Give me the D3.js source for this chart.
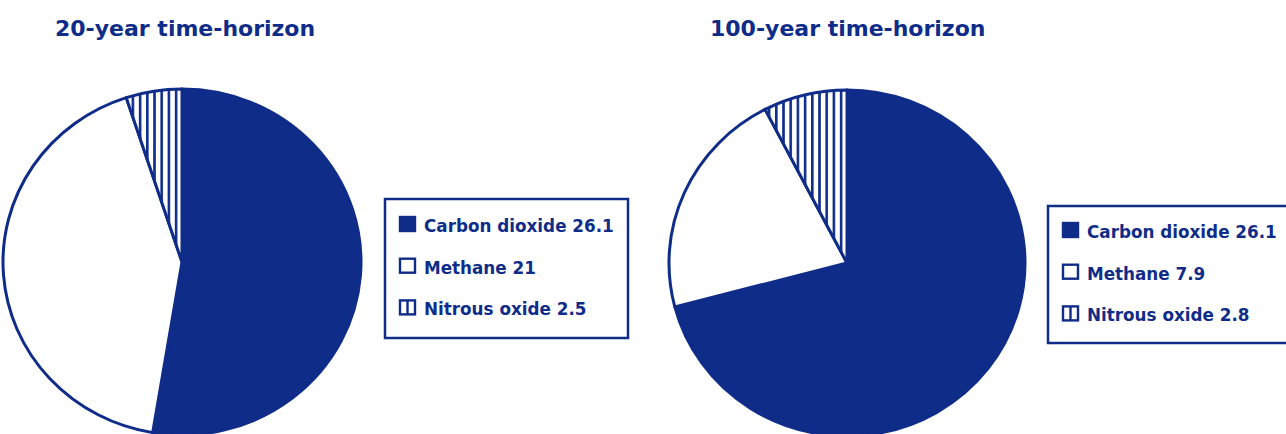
<!DOCTYPE html>
<html>
<head>
<meta charset="utf-8">
<script src="https://cdn.jsdelivr.net/npm/d3@7"></script>
<style>
body { margin: 0; background: #fff; }
svg { display: block; }
</style>
</head>
<body>
<div id="chart-area"></div>
<script>
var categories = ["Carbon dioxide", "Methane", "Nitrous oxide"];
var values20 = [26.1, 21, 2.5];
var values100 = [26.1, 7.9, 2.8];
var titles = ["20-year time-horizon", "100-year time-horizon"];
var valueLabels20 = ["26.1", "21", "2.5"];
var valueLabels100 = ["26.1", "7.9", "2.8"];

var width = 1286;
var height = 434;
var navy = "#0f2c89";

var svg = d3.select("#chart-area").append("svg")
	.attr("width", width)
	.attr("height", height);

var defs = svg.append("defs");
var pat = defs.append("pattern")
	.attr("id", "hatch")
	.attr("patternUnits", "userSpaceOnUse")
	.attr("width", 7.2)
	.attr("height", 10);
pat.append("rect").attr("width", 7.2).attr("height", 10).attr("fill", "#fff");
pat.append("rect").attr("x", 0).attr("width", 2.6).attr("height", 10).attr("fill", navy);

var fills = [navy, "#fff", "url(#hatch)"];

var panels = [
	{values: values20, labels: valueLabels20, title: titles[0], cx: 182, cy: 262, r: 179, ry: 173,
	 titleX: 55, box: {x: 385, y: 199, w: 243, h: 139, top: 17}},
	{values: values100, labels: valueLabels100, title: titles[1], cx: 847, cy: 263, r: 178, ry: 173,
	 titleX: 710, box: {x: 1048, y: 206, w: 245, h: 137, top: 16}}
];

var pie = d3.pie().sort(null).value((d)=>{return d;});

panels.forEach((p)=>{
	svg.append("text")
		.attr("x", p.titleX)
		.attr("y", 36)
		.attr("font-family", "DejaVu Sans")
		.attr("font-weight", "bold")
		.attr("font-size", "22px")
		.attr("fill", navy)
		.text(p.title);

	var arc = d3.arc().innerRadius(0).outerRadius(p.r);
	var g = svg.append("g")
		.attr("transform", "translate(" + p.cx + "," + p.cy + ") scale(1," + (p.ry / p.r) + ")");
	g.selectAll("path")
		.data(pie(p.values))
		.enter()
		.append("path")
		.attr("d", arc)
		.attr("fill", (d, i)=>{return fills[i];})
		.attr("stroke", navy)
		.attr("stroke-width", 3)
		.attr("stroke-linejoin", "round");

	var box = svg.append("g")
		.attr("transform", "translate(" + p.box.x + "," + p.box.y + ")");
	box.append("rect")
		.attr("width", p.box.w)
		.attr("height", p.box.h)
		.attr("fill", "#fff")
		.attr("stroke", navy)
		.attr("stroke-width", 2.5);

	var rows = box.selectAll("g.row")
		.data(categories)
		.enter()
		.append("g")
		.attr("class", "row")
		.attr("transform", (d, i)=>{return "translate(14," + (p.box.top + i * 41.7) + ")";});
	rows.append("rect")
		.attr("x", 1)
		.attr("y", 1)
		.attr("width", 15)
		.attr("height", 14)
		.attr("fill", (d, i)=>{return i == 0 ? navy : "#fff";})
		.attr("stroke", navy)
		.attr("stroke-width", 2.4);
	rows.filter((d, i)=>{return i == 2;})
		.append("line")
		.attr("x1", 8.5).attr("x2", 8.5)
		.attr("y1", 1).attr("y2", 15)
		.attr("stroke", navy)
		.attr("stroke-width", 2.4);
	rows.append("text")
		.attr("x", 25)
		.attr("y", 16)
		.attr("font-family", "DejaVu Sans")
		.attr("font-weight", "bold")
		.attr("font-size", "16.8px")
		.attr("fill", navy)
		.text((d, i)=>{return d + " " + p.labels[i];});
});
</script>
</body>
</html>
